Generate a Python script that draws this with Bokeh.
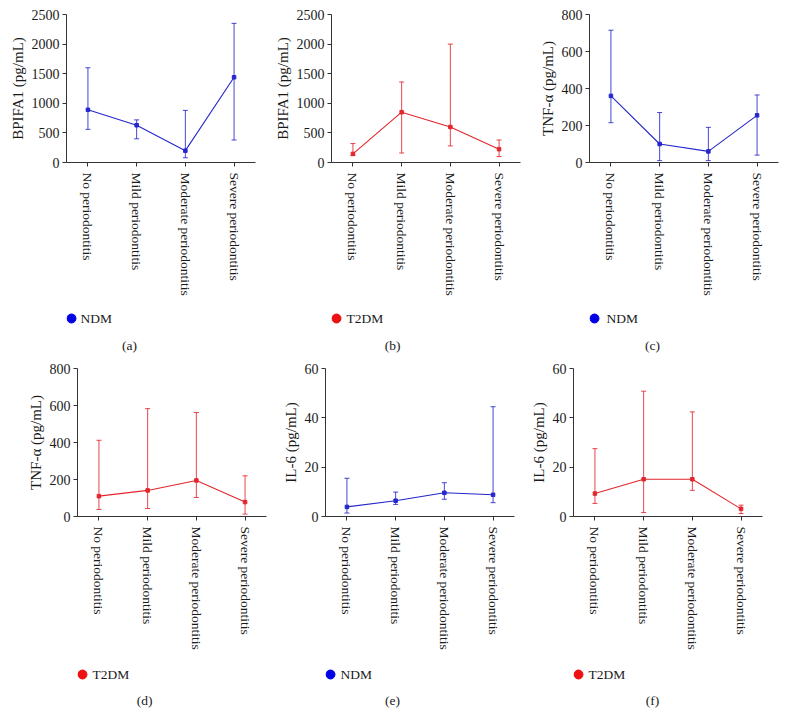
from bokeh.plotting import figure
from bokeh.models import (Range1d, FixedTicker, Whisker, ColumnDataSource, Label, TeeHead)
from bokeh.core.properties import value
from bokeh.layouts import row, column
from bokeh.embed import file_html
from bokeh.resources import INLINE

categories = ["No periodontitis", "Mild periodontitis",
              "Moderate periodontitis", "Severe periodontitis"]

# (a) BPIFA1, NDM
a_mean = [890, 630, 200, 1440]
a_upper = [1600, 720, 880, 2350]
a_lower = [560, 400, 80, 380]
# (b) BPIFA1, T2DM
b_mean = [145, 850, 600, 225]
b_upper = [320, 1360, 2000, 380]
b_lower = [120, 160, 280, 100]
# (c) TNF-alpha, NDM
c_mean = [360, 100, 60, 255]
c_upper = [715, 270, 190, 365]
c_lower = [215, 10, 10, 40]
# (d) TNF-alpha, T2DM
d_mean = [110, 141, 195, 78]
d_upper = [412, 583, 562, 220]
d_lower = [38, 43, 103, 13]
# (e) IL-6, NDM
e_mean = [3.9, 6.4, 9.6, 8.8]
e_upper = [15.5, 9.9, 13.7, 44.5]
e_lower = [1.4, 4.9, 7.0, 5.6]
# (f) IL-6, T2DM
f_mean = [9.3, 15.1, 15.1, 3.1]
f_upper = [27.5, 50.8, 42.4, 4.6]
f_lower = [5.3, 1.6, 10.6, 1.2]

ticks_bpifa1 = [0, 500, 1000, 1500, 2000, 2500]
ticks_tnf = [0, 200, 400, 600, 800]
ticks_il6 = [0, 20, 40, 60]

BLUE = "#2626cc"
RED = "#e3262d"
BLUE_DOT = "#0000e6"
RED_DOT = "#ee1111"
FONT = "Liberation Serif"
TXT = "#1a1a1a"
FW = 189


def panel(mean, upper, lower, ylabel, yticks, color, left, right, top):
    x = list(range(len(categories)))
    src = ColumnDataSource(dict(x=x, mean=mean, upper=upper, lower=lower))
    p = figure(frame_width=FW, frame_height=148,
               x_range=Range1d(-0.44, 3.44), y_range=Range1d(0, yticks[-1]),
               output_backend="svg", toolbar_location=None,
               min_border_left=left, min_border_right=right,
               min_border_top=top, min_border_bottom=138)
    p.outline_line_color = None
    p.xgrid.visible = False
    p.ygrid.visible = False

    w = Whisker(base="x", upper="upper", lower="lower", source=src,
                line_color=color, line_width=1, line_alpha=0.85,
                upper_head=TeeHead(size=5, line_color=color, line_width=1, line_alpha=0.85),
                lower_head=TeeHead(size=5, line_color=color, line_width=1, line_alpha=0.85))
    p.add_layout(w)
    p.line("x", "mean", source=src, line_color=color, line_width=1.1)
    p.scatter("x", "mean", source=src, marker="square", size=3.5,
              fill_color=color, line_color=color)

    for ax in (p.xaxis[0], p.yaxis[0]):
        ax.axis_line_color = "#333333"
        ax.major_tick_line_color = "#333333"
        ax.major_tick_in = 0
        ax.major_tick_out = 4
        ax.minor_tick_line_color = None
        ax.major_label_text_font = FONT
        ax.major_label_text_color = TXT

    p.xaxis.ticker = FixedTicker(ticks=x)
    p.xaxis.major_label_overrides = {i: c for i, c in enumerate(categories)}
    p.xaxis.major_label_orientation = "vertical"
    p.xaxis.major_label_text_font_size = "13.5px"
    p.xaxis.major_label_standoff = 6

    p.yaxis.ticker = FixedTicker(ticks=yticks)
    p.yaxis.major_label_text_font_size = "14px"
    p.yaxis.major_label_standoff = 3
    p.yaxis.axis_label = ylabel
    p.yaxis.axis_label_text_font = FONT
    p.yaxis.axis_label_text_font_size = "15px"
    p.yaxis.axis_label_text_font_style = "normal"
    p.yaxis.axis_label_text_color = TXT
    p.yaxis.axis_label_standoff = 3
    return p


def key(group, dot_color, caption, left, right, height, dot_x, text_x, leg_y, cap_x, cap_y):
    # key strip under a panel; its frame is aligned with the panel's frame,
    # x measured in pixels from the frame's left edge
    k = figure(frame_width=FW, frame_height=height, x_range=Range1d(0, FW),
               y_range=Range1d(0, height), output_backend="svg",
               toolbar_location=None, min_border_left=left,
               min_border_right=right, min_border_top=0, min_border_bottom=0)
    k.axis.visible = False
    k.grid.visible = False
    k.outline_line_color = None
    k.scatter(x=[dot_x], y=[leg_y], marker="circle", size=9,
              fill_color=dot_color, line_color=dot_color)
    k.text(x=[text_x], y=[leg_y], text=[group], text_align="left",
           text_baseline="middle", text_font=value(FONT),
           text_font_size="13.5px", text_color=TXT)
    k.add_layout(Label(x=cap_x, y=cap_y, text=caption, text_align="center",
                       text_baseline="middle", text_font=FONT,
                       text_font_size="13.5px", text_color=TXT))
    return k


pa = panel(a_mean, a_upper, a_lower, "BPIFA1 (pg/mL)", ticks_bpifa1, BLUE, 66, 15, 14)
pb = panel(b_mean, b_upper, b_lower, "BPIFA1 (pg/mL)", ticks_bpifa1, RED, 61, 12, 14)
pc = panel(c_mean, c_upper, c_lower, "TNF-α (pg/mL)", ticks_tnf, BLUE, 57, 4, 14)
pd = panel(d_mean, d_upper, d_lower, "TNF-α (pg/mL)", ticks_tnf, RED, 77, 4, 8)
pe = panel(e_mean, e_upper, e_lower, "IL-6 (pg/mL)", ticks_il6, BLUE, 55, 10, 8)
pf = panel(f_mean, f_upper, f_lower, "IL-6 (pg/mL)", ticks_il6, RED, 49, 10, 8)

ka = key("NDM", BLUE_DOT, "(a)", 66, 15, 60, 5, 14, 42, 63, 15)
kb = key("T2DM", RED_DOT, "(b)", 61, 12, 60, 5, 15, 42, 61, 15)
kc = key("NDM", BLUE_DOT, "(c)", 57, 4, 60, 5, 17, 42, 63, 15)
kd = key("T2DM", RED_DOT, "(d)", 77, 4, 70, 5, 15, 50, 67, 24)
ke = key("NDM", BLUE_DOT, "(e)", 55, 10, 70, 5, 15, 50, 67, 24)
kf = key("T2DM", RED_DOT, "(f)", 49, 10, 70, 5, 15, 50, 79, 24)

layout = column(
    row(column(pa, ka, spacing=0), column(pb, kb, spacing=0), column(pc, kc, spacing=0), spacing=0),
    row(column(pd, kd, spacing=0), column(pe, ke, spacing=0), column(pf, kf, spacing=0), spacing=0),
    spacing=0)

open("out.html", "w").write(file_html(layout, INLINE))
